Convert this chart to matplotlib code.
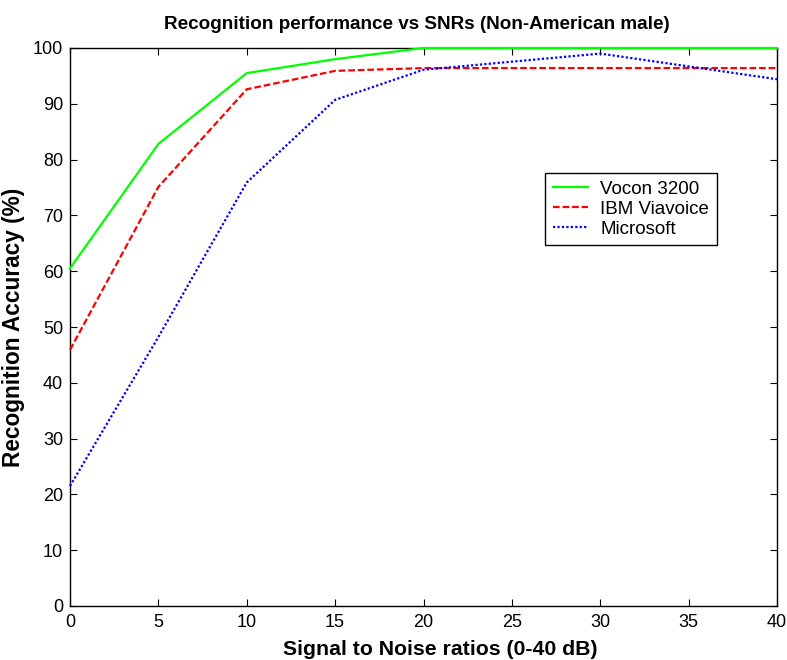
import numpy as np
import matplotlib.pyplot as plt

plt.rcParams['font.family'] = ['Liberation Sans', 'DejaVu Sans']

snr = [0, 5, 10, 15, 20, 30, 40]
vocon = [60.5, 82.8, 95.5, 98.0, 100, 100, 100]
ibm = [45.9, 75.1, 92.6, 95.9, 96.4, 96.4, 96.4]
microsoft = [21.5, 48.2, 75.9, 90.7, 96.1, 99.0, 94.4]


def fit_size(txt, target, renderer, vertical=False):
    # scale the font so the text spans the same pixels as in the original
    bb = txt.get_window_extent(renderer)
    span = bb.height if vertical else bb.width
    txt.set_fontsize(txt.get_fontsize() * target / span)


fig = plt.figure(figsize=(7.87, 6.6), dpi=100)
ax = fig.add_axes([70 / 787, 1 - 606 / 660, 707 / 787, 558 / 660])

ax.plot(snr, vocon, color='#00ff00', lw=1.6, label='Vocon 3200', clip_on=False, zorder=4)
ax.plot(snr, ibm, color='#ff0000', lw=1.6, ls=(0, (3, 1.3)), label='IBM Viavoice', clip_on=False, zorder=3)
ax.plot(snr, microsoft, color='#0000ff', lw=1.6, ls=(0, (1, 1)), label='Microsoft', clip_on=False, zorder=3)

ax.set_xlim(0, 40)
ax.set_ylim(0, 100)
ax.set_xticks(np.arange(0, 41, 5))
ax.set_yticks(np.arange(0, 101, 10))
ax.tick_params(axis='both', direction='in', top=True, right=True, labelsize=13, length=5, width=0.8)
ax.tick_params(axis='x', pad=6)
ax.tick_params(axis='y', pad=5)
for s in ax.spines.values():
    s.set_linewidth(1.0)
    s.set_zorder(2)

title = ax.set_title('Recognition performance vs SNRs (Non-American male)', fontsize=13,
                     fontweight='bold', pad=13.5, x=0.49)
xl = ax.set_xlabel('Signal to Noise ratios (0-40 dB)', fontsize=14, fontweight='bold')
yl = ax.set_ylabel('Recognition Accuracy (%)', fontsize=14, fontweight='bold')
xl.set_va('baseline')
ax.xaxis.set_label_coords(0.523, -(655 - 606) / 558)
ax.yaxis.set_label_coords(-(70 - 25) / 707, 0.5)

fig.canvas.draw()
r = fig.canvas.get_renderer()
fit_size(title, 506, r)
fit_size(xl, 314, r)
fit_size(yl, 280, r, vertical=True)

leg = ax.legend(loc='upper left', bbox_to_anchor=((545 - 70) / 707, (606 - 173) / 558),
                fontsize=13.5, frameon=True, fancybox=False, edgecolor='black',
                borderpad=0.4, labelspacing=0.15, handlelength=1.9, handletextpad=0.65,
                borderaxespad=0, framealpha=1)
leg.get_frame().set_linewidth(1.0)

fig.savefig('out.png', dpi=100)
